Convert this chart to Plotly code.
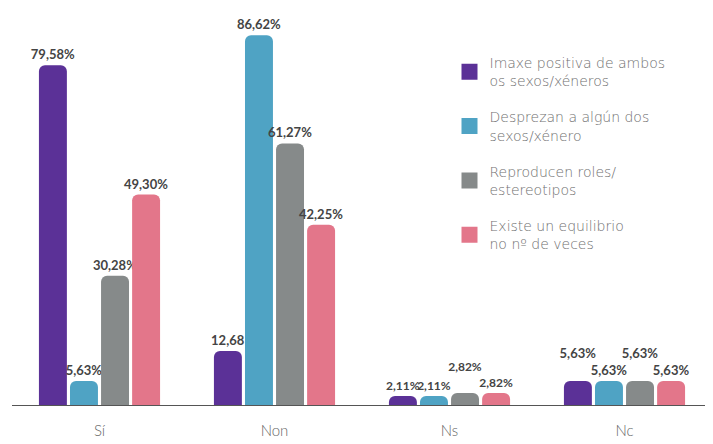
import plotly.graph_objects as go

categories = ["Sí", "Non", "Ns", "Nc"]

series_names = [
    "Imaxe positiva de ambos<br>os sexos/xéneros",
    "Desprezan a algún dos<br>sexos/xénero",
    "Reproducen roles/<br>estereotipos",
    "Existe un equilibrio<br>no nº de veces",
]

imaxe_positiva = [79.58, 12.68, 2.11, 5.63]
desprezan = [5.63, 86.62, 2.11, 5.63]
reproducen = [30.28, 61.27, 2.82, 5.63]
equilibrio = [49.30, 42.25, 2.82, 5.63]

# labels as printed on the original (one has no % sign)
labels_imaxe = ["79,58%", "12,68", "2,11%", "5,63%"]
labels_desprezan = ["5,63%", "86,62%", "2,11%", "5,63%"]
labels_reproducen = ["30,28%", "61,27%", "2,82%", "5,63%"]
labels_equilibrio = ["49,30%", "42,25%", "2,82%", "5,63%"]

# labels raised a line so they don't collide in the short groups
raised_imaxe = [False, False, False, True]
raised_desprezan = [False, False, False, False]
raised_reproducen = [False, False, True, True]
raised_equilibrio = [False, False, False, False]

# slightly smaller labels in the crowded "Ns" group
label_sizes = [13, 13, 12, 13]

colors = ["#5b3197", "#4fa3c4", "#868a8a", "#e3768a"]

values = [imaxe_positiva, desprezan, reproducen, equilibrio]
labels = [labels_imaxe, labels_desprezan, labels_reproducen, labels_equilibrio]
raised = [raised_imaxe, raised_desprezan, raised_reproducen, raised_equilibrio]

fig = go.Figure()
for i in range(4):
    txt = [lab + "<br> " if up else lab for lab, up in zip(labels[i], raised[i])]
    fig.add_trace(
        go.Bar(
            x=categories,
            y=values[i],
            name=series_names[i],
            showlegend=False,
            marker={"color": colors[i], "cornerradius": 6, "line": {"width": 0}},
            text=txt,
            textposition="outside",
            constraintext="none",
            cliponaxis=False,
            textfont={"family": "Lato", "size": label_sizes, "color": "#444444", "weight": "bold"},
            hoverinfo="skip",
        )
    )

# legend-only entries so the swatches can be bigger than the bar default
for i in range(4):
    fig.add_trace(
        go.Scatter(
            x=[None], y=[None],
            mode="markers",
            name=series_names[i],
            legendgroup=str(i),
            marker={"symbol": "square", "size": 16, "color": colors[i]},
        )
    )

# the page body adds 8px around the plot div, so the figure is 8px smaller
fig.update_layout(
    width=705,
    height=436,
    plot_bgcolor="white",
    paper_bgcolor="white",
    barmode="group",
    bargap=0.29,
    bargroupgap=0.1,
    margin={"l": 4, "r": 1, "t": 12, "b": 39},
    font={"family": "Lato", "color": "#666666"},
    legend=dict(
        x=0.625, y=0.93, xanchor="left", yanchor="top",
        font={"size": 14, "color": "#707070", "family": "DejaVu Sans", "weight": 300},
        tracegroupgap=15,
        itemsizing="trace",
        bgcolor="rgba(0,0,0,0)",
    ),
    xaxis=dict(
        showline=True, linecolor="#555555", linewidth=1,
        tickfont={"size": 15, "color": "#666666", "weight": 300},
        ticks="", showgrid=False,
        ticklabelstandoff=12,
    ),
    yaxis=dict(range=[0, 90.2], visible=False, showgrid=False),
)

fig.write_html("out.html")
